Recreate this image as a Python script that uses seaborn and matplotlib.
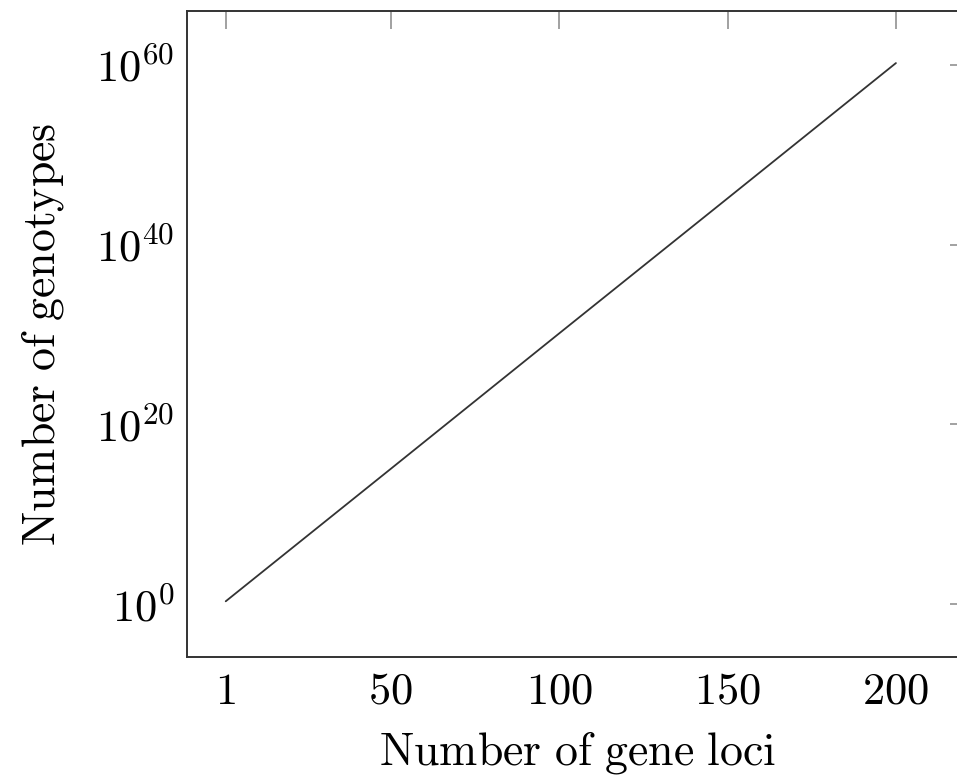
import numpy as np
import pandas as pd
import matplotlib
matplotlib.use("Agg")
import matplotlib.pyplot as plt
import seaborn as sns

# values (log-scale y)
loci = [1, 50, 100, 150, 200]
genotypes = [2.0, 1.1e15, 1.3e30, 1.4e45, 1.6e60]
x_ticks = [1, 50, 100, 150, 200]
y_ticks = [1e0, 1e20, 1e40, 1e60]
y_tick_labels = [r"$10^{0}$", r"$10^{20}$", r"$10^{40}$", r"$10^{60}$"]

sns.set_theme(style="white")
plt.rcParams["mathtext.fontset"] = "cm"
plt.rcParams["font.family"] = ["DejaVu Serif"]
plt.rcParams["text.color"] = "black"
plt.rcParams["axes.labelcolor"] = "black"
plt.rcParams["xtick.labelcolor"] = "black"
plt.rcParams["ytick.labelcolor"] = "black"

df = pd.DataFrame({"loci": loci, "genotypes": genotypes})

fig = plt.figure(figsize=(9.57, 7.81), dpi=100)
ax = fig.add_axes([187 / 957, (781 - 657) / 781, (968 - 187) / 957, (657 - 11) / 781])

sns.lineplot(data=df, x="loci", y="genotypes", color="#333333", linewidth=1.3, ax=ax)
ax.set_yscale("log")

ax.set_xlim(-10.5, 221.4)
ax.set_ylim(10 ** -5.9, 10 ** 66.0)

ax.set_xticks(x_ticks)
ax.set_xticklabels([rf"${t}$" for t in x_ticks])
ax.set_yticks(y_ticks)
ax.set_yticklabels(y_tick_labels)
ax.minorticks_off()

ax.tick_params(direction="in", length=13, width=1.1, color="#888888",
               top=True, right=True, labelsize=32, pad=9)
for sp in ax.spines.values():
    sp.set_color("#333333")
    sp.set_linewidth(1.4)

ax.set_xlabel(r"$\mathrm{Number\ of\ gene\ loci}$", fontsize=33, labelpad=12)
ax.set_ylabel(r"$\mathrm{Number\ of\ genotypes}$", fontsize=33, labelpad=22)

fig.savefig("out.png", dpi=100)
